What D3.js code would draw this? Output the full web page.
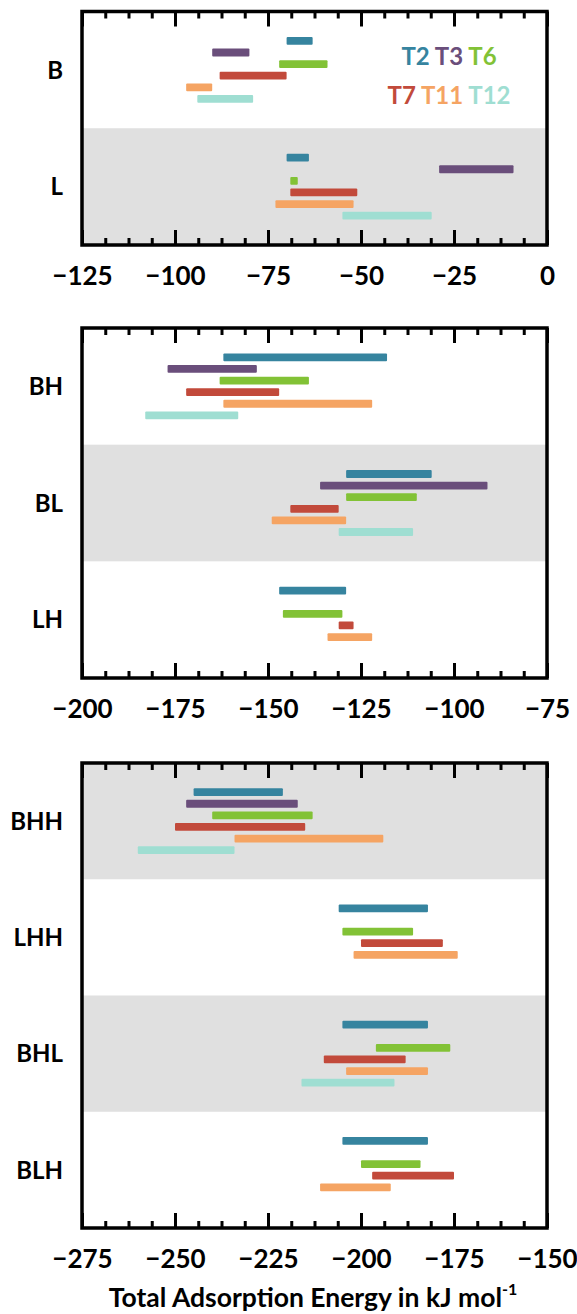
<!DOCTYPE html>
<html>
<head>
<meta charset="utf-8">
<script src="https://cdn.jsdelivr.net/npm/d3@7/dist/d3.min.js"></script>
<style>
  html, body { margin: 0; padding: 0; background: #ffffff; }
  svg { display: block; }
  text { font-family: Lato, "Open Sans", sans-serif; font-weight: 700; }
</style>
</head>
<body>
<svg id="chart" width="577" height="1314"></svg>
<script>
// ---------------- DATA ----------------
const series = ["T2", "T3", "T6", "T7", "T11", "T12"];
const seriesColors = ["#36849f", "#6a4e7b", "#82c236", "#c24a3b", "#f5a463", "#9fded2"];

// Panel 1 (one-site adsorption)
const rowsP1 = ["B", "L"];
const lowP1 = [
  [-70, -90, -72, -88, -97, -94],
  [-70, -29, -69, -69, -73, -55]
];
const highP1 = [
  [-63, -80, -59, -70, -90, -79],
  [-64, -9, -67, -51, -52, -31]
];
const ticksP1 = [-125, -100, -75, -50, -25, 0];

// Panel 2 (two-site adsorption)
const rowsP2 = ["BH", "BL", "LH"];
const lowP2 = [
  [-162, -177, -163, -172, -162, -183],
  [-129, -136, -129, -144, -149, -131],
  [-147, null, -146, -131, -134, null]
];
const highP2 = [
  [-118, -153, -139, -147, -122, -158],
  [-106, -91, -110, -131, -129, -111],
  [-129, null, -130, -127, -122, null]
];
const ticksP2 = [-200, -175, -150, -125, -100, -75];

// Panel 3 (three-site adsorption)
const rowsP3 = ["BHH", "LHH", "BHL", "BLH"];
const lowP3 = [
  [-245, -247, -240, -250, -234, -260],
  [-206, null, -205, -200, -202, null],
  [-205, null, -196, -210, -204, -216],
  [-205, null, -200, -197, -211, null]
];
const highP3 = [
  [-221, -217, -213, -215, -194, -234],
  [-182, null, -186, -178, -174, null],
  [-182, null, -176, -188, -182, -191],
  [-182, null, -184, -175, -192, null]
];
const ticksP3 = [-275, -250, -225, -200, -175, -150];

const axisTitle = "Total Adsorption Energy in kJ mol";
const axisTitleSup = "-1";

// ---------------- LAYOUT ----------------
const svg = d3.select("#chart");
const left = 82, right = 547;
const bandFill = "#e0e0e0";

const panels = [
  { rows: rowsP1, low: lowP1, high: highP1, ticks: ticksP1, top: 11.5, bottom: 245, shaded: [false, true] },
  { rows: rowsP2, low: lowP2, high: highP2, ticks: ticksP2, top: 328, bottom: 678, shaded: [false, true, false] },
  { rows: rowsP3, low: lowP3, high: highP3, ticks: ticksP3, top: 763, bottom: 1228, shaded: [true, false, true, false] }
];

const color = d3.scaleOrdinal().domain(series).range(seriesColors);

panels.forEach((p, pi) => {
  const domain = [p.ticks[0], p.ticks[p.ticks.length - 1]];
  const x = d3.scaleLinear().domain(domain).range([left, right]);
  const y = d3.scaleBand().domain(p.rows).range([p.top, p.bottom]);
  const slot = d3.scalePoint().domain(series).range([-29, 29]);

  const g = svg.append("g").attr("class", "panel" + (pi + 1));

  // shaded row bands
  g.selectAll("rect.band")
    .data(p.rows.filter((r, i) => p.shaded[i]))
    .enter().append("rect")
    .attr("class", "band")
    .attr("x", left)
    .attr("width", right - left)
    .attr("y", d => y(d))
    .attr("height", y.bandwidth())
    .attr("fill", bandFill);

  // bars
  const bars = [];
  p.rows.forEach((r, ri) => {
    series.forEach((s, si) => {
      const lo = p.low[ri][si], hi = p.high[ri][si];
      if (lo === null || hi === null) return;
      bars.push({ row: r, s: s, lo: lo, hi: hi });
    });
  });
  const barH = 7.8;
  g.selectAll("rect.bar")
    .data(bars)
    .enter().append("rect")
    .attr("class", "bar")
    .attr("x", d => x(d.lo))
    .attr("width", d => x(d.hi) - x(d.lo))
    .attr("y", d => y(d.row) + y.bandwidth() / 2 + slot(d.s) - barH / 2)
    .attr("height", barH)
    .attr("rx", 1)
    .attr("fill", d => color(d.s));

  // row labels
  g.selectAll("text.rowlab")
    .data(p.rows)
    .enter().append("text")
    .attr("class", "rowlab")
    .attr("x", 63)
    .attr("y", d => y(d) + y.bandwidth() / 2)
    .attr("dy", "0.36em")
    .attr("text-anchor", "end")
    .attr("font-size", 24)
    .attr("fill", "#000")
    .text(d => d);

  // minor / major ticks (inward)
  const majors = d3.range(domain[0], domain[1] + 0.001, 25);
  const minors = d3.range(domain[0], domain[1] + 0.001, 6.25).filter(v => !majors.includes(v));

  function styleTicks(sel) {
    sel.select(".domain").remove();
    sel.selectAll(".tick line").attr("stroke", "#000").attr("stroke-width", 3);
    sel.selectAll(".tick text").remove();
  }
  g.append("g").attr("transform", `translate(0,${p.top})`)
    .call(d3.axisTop(x).tickValues(minors).tickSize(-7)).call(styleTicks);
  g.append("g").attr("transform", `translate(0,${p.top})`)
    .call(d3.axisTop(x).tickValues(majors).tickSize(-15)).call(styleTicks);
  g.append("g").attr("transform", `translate(0,${p.bottom})`)
    .call(d3.axisBottom(x).tickValues(minors).tickSize(-7)).call(styleTicks);
  g.append("g").attr("transform", `translate(0,${p.bottom})`)
    .call(d3.axisBottom(x).tickValues(majors).tickSize(-15)).call(styleTicks);

  // tick labels
  const lab = g.append("g").attr("transform", `translate(0,${p.bottom})`)
    .call(d3.axisBottom(x).tickValues(p.ticks).tickSize(0).tickFormat(d3.format("d")));
  lab.select(".domain").remove();
  lab.selectAll(".tick text")
    .attr("y", 40).attr("dy", null)
    .attr("font-family", "'Open Sans', sans-serif")
    .attr("font-weight", 700)
    .attr("font-size", 26)
    .attr("fill", "#000");

  // frame
  g.append("rect")
    .attr("x", left).attr("y", p.top)
    .attr("width", right - left).attr("height", p.bottom - p.top)
    .attr("fill", "none").attr("stroke", "#000").attr("stroke-width", 3.5);
});

// legend
const legendLines = [series.slice(0, 3), series.slice(3)];
legendLines.forEach((line, li) => {
  const t = svg.append("text")
    .attr("x", 449)
    .attr("y", li === 0 ? 65 : 104)
    .attr("text-anchor", "middle")
    .attr("font-size", 24);
  line.forEach((s, k) => {
    t.append("tspan").attr("fill", color(s)).text((k > 0 ? " " : "") + s);
  });
});

// axis title
const title = svg.append("text")
  .attr("x", 313)
  .attr("y", 1307)
  .attr("text-anchor", "middle")
  .attr("font-family", "'Open Sans', sans-serif")
  .attr("font-size", 26.5)
  .attr("fill", "#000");
title.append("tspan").text(axisTitle);
title.append("tspan").attr("font-size", 16).attr("dy", -12).text(axisTitleSup);
</script>
</body>
</html>
